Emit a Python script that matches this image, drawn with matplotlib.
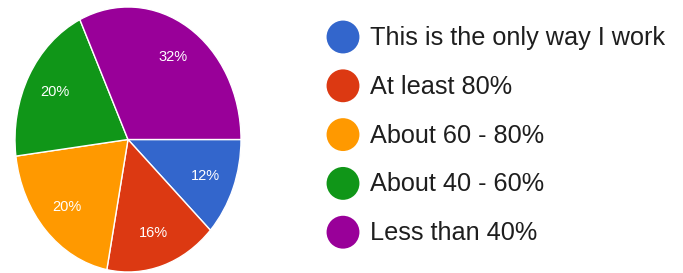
import matplotlib
matplotlib.use("Agg")
import matplotlib.pyplot as plt

labels = ["This is the only way I work", "At least 80%", "About 60 - 80%",
          "About 40 - 60%", "Less than 40%"]
values = [12, 16, 20, 20, 32]
colors = ["#3366CC", "#DC3912", "#FF9900", "#109618", "#990099"]

plt.rcParams['font.family'] = ['Liberation Sans', 'DejaVu Sans']

W, H = 683, 273
fig = plt.figure(figsize=(W / 100, H / 100), dpi=100)

# pie (slightly elliptical as in the reference)
cx, cy, rx, ry = 128, 139.5, 113, 132.5
ax = fig.add_axes([(cx - rx) / W, (H - cy - ry) / H, 2 * rx / W, 2 * ry / H])
wedges, texts, autotexts = ax.pie(
    values, colors=colors, startangle=0, counterclock=False,
    autopct=lambda p: f"{p:.0f}%", pctdistance=0.74,
    wedgeprops=dict(edgecolor="white", linewidth=1.0),
    textprops=dict(color="white", fontsize=10.5))
ax.set_aspect('auto')
ax.set_xlim(-1, 1)
ax.set_ylim(-1, 1)
ax.axis('off')

# legend
lax = fig.add_axes([0, 0, 1, 1])
lax.set_xlim(0, W)
lax.set_ylim(H, 0)
lax.axis('off')
y0, dy = 37, 48.8
for i, (lab, col) in enumerate(zip(labels, colors)):
    y = y0 + i * dy
    lax.scatter([343], [y], s=560, color=col, edgecolors='none')
    lax.text(370, y + 1, lab, fontsize=18.2, color="#1e1e1e", va='center', ha='left')

fig.savefig("out.png", dpi=100)
